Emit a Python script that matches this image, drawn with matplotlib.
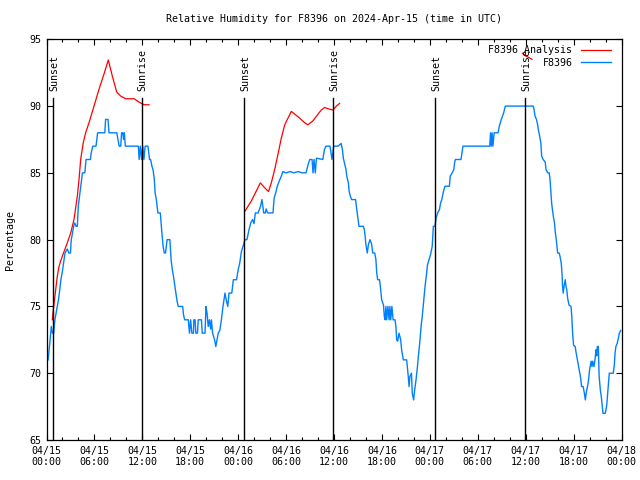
import numpy as np
import matplotlib
matplotlib.use("Agg")
import matplotlib.pyplot as plt

# ---- data (hours since 2024-04-15 00:00 UTC) ----
obs_hours = [0.2,0.45,0.6,0.75,0.9,1.05,1.2,1.35,1.5,1.65,1.8,1.98,2.15,2.32,2.6,2.8,3.0,3.1,3.23,3.4,3.53,3.7,3.86,3.98,4.15,4.36,4.5,4.8,4.95,5.5,5.6,5.8,6.2,6.4,7.3,7.4,7.7,7.83,8.8,8.95,9.1,9.3,9.4,9.55,9.65,9.75,9.87,11.5,11.6,11.75,11.9,12.05,12.2,12.35,12.7,12.9,13.04,13.2,13.35,13.5,13.6,13.75,13.95,14.25,14.35,14.45,14.6,14.75,14.9,15.0,15.1,15.45,15.6,15.75,15.9,16.05,16.2,16.35,16.5,17.05,17.15,17.3,17.76,17.9,18.05,18.2,18.4,18.45,18.6,18.7,18.9,19.0,19.4,19.5,19.85,19.97,20.1,20.25,20.4,20.55,20.65,20.8,21.05,21.2,21.35,21.5,21.7,21.9,22.1,22.35,22.5,22.7,22.85,23.2,23.4,23.8,24.0,24.2,24.4,24.6,24.86,
             25.1,25.36,25.57,25.8,25.98,26.15,26.5,26.8,26.98,27.2,27.4,27.5,27.7,27.9,28.36,28.5,28.7,28.9,29.15,29.4,29.6,30.0,30.5,31.0,31.5,32.0,32.5,32.75,32.96,33.25,33.37,33.5,33.66,33.8,34.6,34.8,35.0,35.5,35.75,35.96,36.5,36.9,37.05,37.17,37.5,37.6,37.8,37.9,38.05,38.2,38.7,38.8,38.97,39.13,39.67,39.8,39.9,40.0,40.17,40.3,40.5,40.7,40.85,41.1,41.25,41.35,41.47,41.7,41.8,41.97,42.2,42.3,42.4,42.5,42.6,42.75,42.9,43.0,43.1,43.25,43.4,43.64,43.75,43.85,43.97,44.14,44.35,44.47,44.68,45.1,45.3,45.4,45.5,45.7,45.8,45.97,46.1,46.27,46.45,46.56,46.77,46.9,47.05,47.2,47.4,47.6,47.7,47.9,48.1,48.3,48.44,48.65,48.77,48.98,
             49.2,49.35,49.5,49.7,49.9,50.45,50.55,50.8,51.0,51.1,51.2,51.9,52.15,55.5,55.6,55.7,55.8,55.9,56.05,56.55,56.7,56.95,57.25,57.45,60.96,61.05,61.17,61.35,61.5,61.58,61.75,61.9,62.0,62.2,62.45,62.55,62.76,62.95,63.05,63.15,63.25,63.35,63.5,63.6,63.7,63.85,64.0,64.2,64.3,64.45,64.55,64.62,64.7,64.83,64.96,65.05,65.15,65.26,65.43,65.68,65.76,65.89,66.0,66.2,66.3,66.45,66.6,66.75,66.9,67.0,67.2,67.35,67.47,67.6,67.77,67.9,68.0,68.2,68.3,68.4,68.55,68.7,68.8,68.9,68.97,69.1,69.2,69.35,69.5,69.68,69.97,70.15,70.27,70.4,70.47,70.97,71.1,71.19,71.3,71.47,71.6,71.73,71.9]
obs_values = [71,72.5,73.5,73,73,74,74.5,75,75.5,76.2,77,77.6,78.3,79,79.3,79,79,80,80.4,81,81.25,81,81,82.5,83.3,84.3,85,85,86,86,86.5,87,87,88,88,89,89,88,88,87.5,87,87,88,88,87.5,88,87,87,86,87,86,87,86,87,87,86,86,85.5,85.2,84.5,83.5,83,82,82,81.25,80.5,79.5,79,79,79.5,80,80,78.5,77.75,77.25,76.6,76,75.4,75,75,74.4,74,74,73,74,73,73,74,74,73,73,74,74,73,73,75,74.5,73.5,74,73.3,74,73,72.5,72,72.5,73,73.2,74,75,76,75.5,75,76,76,77,77,77.75,78.25,79.1,79.5,80,
              80,80.75,81.25,81.5,81.2,82,82,82.5,83,82,82,82.3,82,82,82,83.1,83.5,84,84.4,84.75,85.1,85,85.1,85,85.1,85,85,85.6,86,86,85,86,85,86.1,86,86.75,87,87,86,87,87,87.2,86.75,86.1,85.25,84.75,84.25,83.6,83.25,83,83,82.5,81.75,81,81,80.75,80.25,79.6,79,79.6,80,79.7,79,79,78.5,77.5,77,77,76.5,75.5,75.1,74.25,74,75,74,75,74,75,74,75,74,74,73.5,72.5,72.4,73,72.5,71.75,71,71,69.75,69,69.75,70,68.5,68,68.75,69.5,70.5,71.25,72.5,73.5,74.25,75.25,76.5,77.5,78.1,78.5,78.9,79.5,81,81,81.6,82,
              82.25,82.75,83,83.6,84,84,84.75,85,85.25,85.75,86,86,87,87,88,87,88,87,88,88,88.5,89,89.5,90,90,89.75,89.25,89,88.6,88.25,87.75,87.25,86.25,86,85.8,85.25,85,85,84.5,83.6,82.75,82.25,81.6,81.3,80.6,79.9,79,79,78.75,78.25,77.5,76.5,76,76.6,77,76.5,76.25,75.6,75.1,75,74.4,72.9,72.1,72,71.6,71.1,70.6,70.1,69.6,69,69,68.5,68,68.6,69.1,69.6,70.25,70.9,70.5,70.9,70.5,71.1,71.75,71.3,72,72,69.75,68.75,68.1,67,67,67.6,68.5,69.5,70,70,70.6,71.5,72,72.25,72.6,73,73.2]

ana_hours = [0.73,0.85,1.15,1.35,1.57,1.77,2.19,2.6,3.03,3.44,3.86,4.07,4.28,4.6,4.9,5.32,5.95,6.57,7.2,7.74,8.24,8.79,9.29,9.91,10.96,11.58,12.2,12.84,
             np.nan,
             24.82,25.23,25.65,26.07,26.4,26.77,27.3,27.8,28.15,28.57,28.99,29.4,29.83,30.24,30.66,31.08,31.7,32.33,32.74,33.37,34.0,34.4,34.83,35.25,35.88,36.29,36.71,
             np.nan,
             59.6,60.2,60.8]
ana_values = [74,74.75,76.25,77.25,78,78.4,79.1,79.75,80.5,81.5,83.25,84.5,86,87.25,88,88.75,90,91.25,92.4,93.45,92.25,91.05,90.75,90.55,90.55,90.3,90.1,90.1,
              np.nan,
              82.1,82.5,82.9,83.4,83.8,84.25,83.9,83.6,84.25,85.25,86.4,87.6,88.6,89.1,89.6,89.4,89.1,88.75,88.6,88.9,89.4,89.7,89.9,89.8,89.7,90.0,90.2,
              np.nan,
              93.95,93.7,93.5]

sun_hours = [0.79, 11.91, 24.79, 35.91, 48.7, 59.95]
sun_labels = ["Sunset", "Sunrise", "Sunset", "Sunrise", "Sunset", "Sunrise"]

xtick_hours = [0, 6, 12, 18, 24, 30, 36, 42, 48, 54, 60, 66, 72]
xtick_labels = ["04/15\n00:00", "04/15\n06:00", "04/15\n12:00", "04/15\n18:00",
                "04/16\n00:00", "04/16\n06:00", "04/16\n12:00", "04/16\n18:00",
                "04/17\n00:00", "04/17\n06:00", "04/17\n12:00", "04/17\n18:00",
                "04/18\n00:00"]
yticks = [65, 70, 75, 80, 85, 90, 95]

# ---- figure ----
plt.rcParams['font.family'] = ['DejaVu Sans Mono']
FS = 7.2
fig = plt.figure(figsize=(6.4, 4.8), dpi=100)
ax = fig.add_axes([46.5/640, 40/480, 575/640, 400.7/480])

ax.plot(ana_hours, ana_values, color='#ff0000', lw=0.9, label='F8396 Analysis')
ax.plot(obs_hours, obs_values, color='#0080ff', lw=1.0, label='F8396')

for h, lab in zip(sun_hours, sun_labels):
    ax.plot([h, h], [65, 90.6], color='black', lw=1.0)
    ax.text(h + 0.15, 91.1, lab, rotation=90, ha='center', va='bottom', fontsize=FS)

ax.set_xlim(0, 72)
ax.set_ylim(65, 95)
ax.set_xticks(xtick_hours)
ax.set_xticklabels(xtick_labels, fontsize=FS)
ax.set_xticks(np.arange(0, 73, 2), minor=True)
ax.set_yticks(yticks)
ax.set_yticklabels([str(v) for v in yticks], fontsize=FS)
ax.tick_params(which='both', direction='in', top=True, right=True, width=0.8)
ax.tick_params(which='major', length=4, pad=4)
ax.tick_params(which='minor', length=2.2)
for s in ax.spines.values():
    s.set_linewidth(0.9)

ax.set_ylabel('Percentage', fontsize=FS, labelpad=10)
fig.text(334/640, 1 - 19/480, 'Relative Humidity for F8396 on 2024-Apr-15 (time in UTC)',
         ha='center', va='center', fontsize=FS)

leg = ax.legend(loc='upper right', bbox_to_anchor=(0.993, 1.0), frameon=False,
                markerfirst=False, fontsize=FS, handlelength=3.0, handletextpad=0.9,
                labelspacing=0.25, borderaxespad=0.2)

fig.savefig('out.png', dpi=100)
